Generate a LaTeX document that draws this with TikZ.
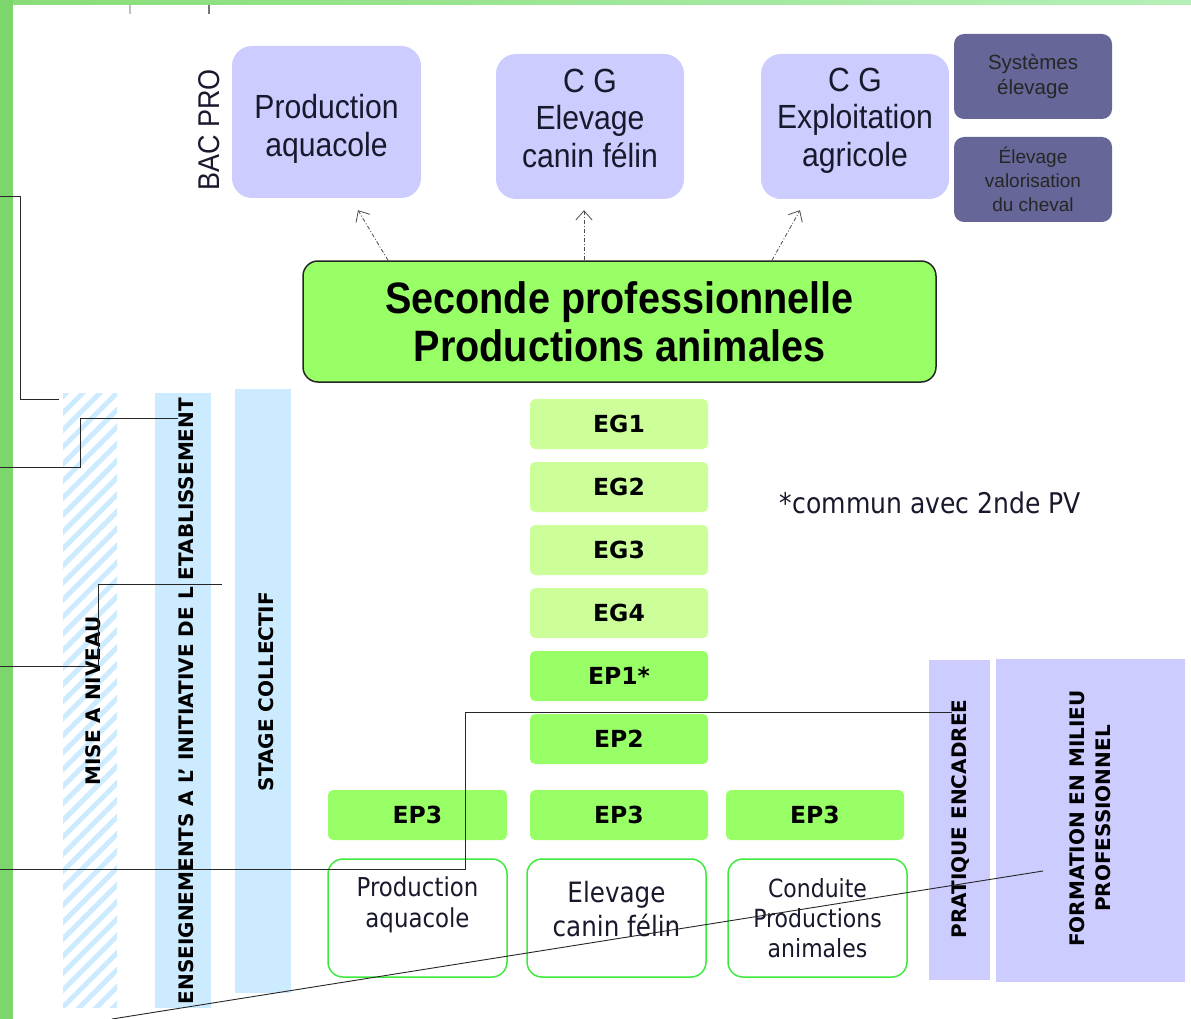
\documentclass[tikz,border=0pt]{standalone}
\usepackage{fontspec}
\setmainfont{Liberation Sans}
\newfontfamily\arn[FakeStretch=0.9]{Liberation Sans}
\newfontfamily\arnb[FakeStretch=0.9]{Liberation Sans}
\newfontfamily\dvb{DejaVu Sans}
\newfontfamily\dvc[FakeStretch=0.88]{DejaVu Sans}
\usetikzlibrary{arrows.meta,patterns.meta}
\definecolor{lav}{RGB}{204,204,255}
\definecolor{darklav}{RGB}{102,102,153}
\definecolor{maingreen}{RGB}{153,255,102}
\definecolor{lightgreen}{RGB}{204,255,153}
\definecolor{barblue}{RGB}{204,235,255}
\definecolor{framegreen}{RGB}{125,214,107}
\definecolor{bandleft}{RGB}{136,221,119}
\definecolor{bandright}{RGB}{181,240,184}
\definecolor{boxgreen}{RGB}{60,235,60}
\definecolor{txt}{RGB}{25,25,45}
\begin{document}
\begin{tikzpicture}[x=1pt,y=-1pt,
  topbox/.style={fill=lav, rounded corners=20pt, inner sep=0pt},
  toptext/.style={align=center, font=\arn\fontsize{33.5}{37.5}\selectfont, text=txt, inner sep=0pt},
  darkbox/.style={fill=darklav, rounded corners=10pt, minimum width=158pt, minimum height=85pt, inner sep=0pt, align=center, font=\fontsize{20.5}{24.5}\selectfont, text=black!85},
  mainbox/.style={draw=black!85, line width=1.5pt, fill=maingreen, rounded corners=15pt, minimum width=633pt, minimum height=121pt, align=center, font=\arnb\bfseries\fontsize{44}{48}\selectfont},
  egbox/.style={fill=#1, rounded corners=5pt, minimum width=178pt, minimum height=50pt, inner sep=0pt, font=\dvb\bfseries\fontsize{23.5}{26}\selectfont},
  botbox/.style={draw=boxgreen, line width=1.5pt, fill=white, rounded corners=15pt, minimum width=179pt, minimum height=118pt, inner sep=0pt},
  bottext/.style={align=center, inner sep=0pt, text=txt},
  bar/.style={fill=#1, inner sep=0pt},
  vtext/.style={rotate=90, font=\dvb\bfseries\fontsize{20}{26}\selectfont, align=center, inner sep=0pt},
  link/.style={draw=black!85, line width=0.9pt},
  uparrow/.style={draw=black!70, line width=0.8pt, dash pattern=on 4pt off 2pt on 1pt off 2pt, -{Straight Barb[length=9pt,width=16pt,line width=0.8pt]}}
]
\useasboundingbox (0,0) rectangle (1191,1019);
\fill[white] (0,0) rectangle (1191,1019);
% frame
\shade[left color=bandleft, right color=bandright] (0,0) rectangle (1191,5);
\fill[framegreen] (0,0) rectangle (13,1019);
\fill[black!25] (129,5) rectangle (131,14);
\fill[black!55] (208,5) rectangle (210,14);

% top boxes
\node[topbox, minimum width=189pt, minimum height=152pt] (bp1) at (326.5,122) {};
\node[toptext] (bp1t) at (326.5,129) {Production\\aquacole};
\node[topbox, minimum width=188pt, minimum height=145pt] (bp2) at (590,126.5) {};
\node[toptext] (bp2t) at (590,118) {C G\\Elevage\\canin félin};
\node[topbox, minimum width=188pt, minimum height=145pt] (bp3) at (855,126.5) {};
\node[toptext] (bp3t) at (855,120.5) {C G\\Exploitation\\agricole};
\node[rotate=90, font=\arn\fontsize{30}{34}\selectfont, text=txt, inner sep=0pt] (bacpro) at (209,130) {BAC PRO};

\node[darkbox] (sys) at (1033,76.5) {Systèmes\\élevage};
\node[darkbox, font=\fontsize{19}{24}\selectfont] (chev) at (1033,179.5) {Élevage\\valorisation\\du cheval};

% main box
\node[mainbox] (main) at (619.5,321.5) {Seconde professionnelle\\Productions animales};

\draw[uparrow] ([xshift=-231.5pt]main.north) -- ([xshift=31.5pt,yshift=-12pt]bp1.south);
\draw[uparrow] ([xshift=-35.5pt]main.north) -- ([xshift=-6pt,yshift=-11pt]bp2.south);
\draw[uparrow] ([xshift=152.5pt]main.north) -- ([xshift=-55pt,yshift=-11pt]bp3.south);

% EG / EP column
\node[egbox=lightgreen] (eg1) at (619,424) {EG1};
\node[egbox=lightgreen] (eg2) at (619,487) {EG2};
\node[egbox=lightgreen] (eg3) at (619,550) {EG3};
\node[egbox=lightgreen] (eg4) at (619,613) {EG4};
\node[egbox=maingreen] (ep1) at (619,676) {EP1*};
\node[egbox=maingreen] (ep2) at (619,739) {EP2};
\node[egbox=maingreen, minimum width=179pt] (ep3a) at (417.5,815) {EP3};
\node[egbox=maingreen] (ep3b) at (619,815) {EP3};
\node[egbox=maingreen] (ep3c) at (815,815) {EP3};

\node[font=\dvc\fontsize{28.5}{32}\selectfont, text=txt, inner sep=0pt] (commun) at (930.5,503) {*commun avec 2nde PV};

% bottom boxes
\node[botbox] (ba) at (417.5,918) {};
\node[bottext, font=\dvc\fontsize{26}{31}\selectfont] (bat) at (417.5,904.5) {Production\\aquacole};
\node[botbox] (bb) at (616.5,918) {};
\node[bottext, font=\dvc\fontsize{28}{34}\selectfont] (bbt) at (616.5,909) {Elevage\\canin félin};
\node[botbox] (bc) at (817.5,918) {};
\node[bottext, font=\dvc\fontsize{25}{30}\selectfont] (bct) at (817.5,918) {Conduite\\Productions\\animales};

% left bars
\node[inner sep=0pt, minimum width=54pt, minimum height=614pt, pattern={Lines[angle=45,distance=12pt,line width=5pt]}, pattern color=barblue] (mn) at (90,700) {};
\node[vtext] (mnt) at (93.5,701) {MISE A NIVEAU};
\node[bar=barblue, minimum width=56pt, minimum height=615pt] (ens) at (183,700.5) {};
\node[vtext] (enst) at (186,701) {ENSEIGNEMENTS A L’ INITIATIVE DE L ETABLISSEMENT};
\node[bar=barblue, minimum width=56pt, minimum height=604pt] (stg) at (263,691) {};
\node[vtext] (stgt) at (266,691.5) {STAGE COLLECTIF};

% right bars
\node[bar=lav, minimum width=61pt, minimum height=320pt] (pe) at (959.5,820) {};
\node[vtext] (pet) at (961,819) {PRATIQUE ENCADREE};
\node[bar=lav, minimum width=189pt, minimum height=323pt] (fm) at (1090.5,820.5) {};
\node[vtext] (fmt) at (1090,818.5) {FORMATION EN MILIEU\\PROFESSIONNEL};

% stray connector lines
\coordinate (l1a) at (0,196); \coordinate (l1b) at (59,399);
\coordinate (l2a) at (0,467); \coordinate (l2b) at (178,418);
\coordinate (l3a) at (0,666); \coordinate (l3b) at (222,584);
\coordinate (l4a) at (0,869); \coordinate (l4b) at (952,712);
\coordinate (l5a) at (112,1019); \coordinate (l5b) at (1043,871);
\draw[link] (l1a) -- (20,196) -- (20,399) -- (l1b);
\draw[link] (l2a) -- (80,467) -- (80,418) -- (l2b);
\draw[link] (l3a) -- (98,666) -- (98,584) -- (l3b);
\draw[link] (l4a) -- (465,869) -- (465,712) -- (l4b);
\draw[link] (l5a) -- (l5b);
\end{tikzpicture}
\end{document}
